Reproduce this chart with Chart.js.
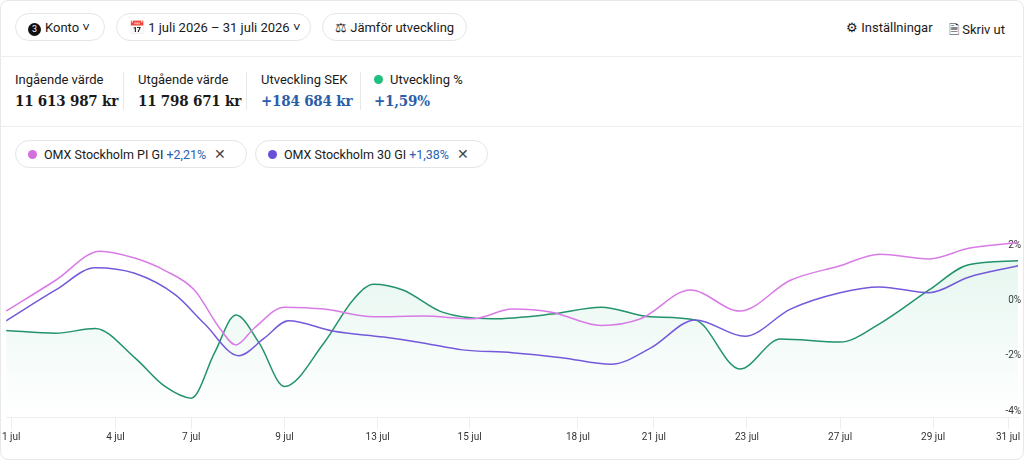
<!DOCTYPE html>
<html><head><meta charset="utf-8">
<script src="https://cdn.jsdelivr.net/npm/chart.js@4"></script>
<style>
body{margin:0;background:#fff;font-family:Roboto,sans-serif;color:#1a1a1a;width:1024px;height:460px;overflow:hidden}
.card{position:absolute;left:0;top:0;width:1022px;height:458px;border:1px solid #e6e8ea;border-radius:8px}
.pill{position:absolute;top:13px;height:28px;border:1px solid #e3e5e8;border-radius:15px;font-size:13px;line-height:27px;padding:0 12px;box-sizing:border-box;white-space:nowrap}
.top a{position:absolute;top:20px;font-size:13px;white-space:nowrap}
.hr{position:absolute;left:0;width:1022px;border-top:1px solid #eceef0}
.stat{position:absolute;top:72px;font-size:13px;white-space:nowrap}
.stat b{display:block;margin-top:5px;font-family:"DejaVu Serif Condensed","DejaVu Serif",serif;font-stretch:condensed;font-size:15px;letter-spacing:-.2px}
.sep{position:absolute;top:72px;height:38px;border-left:1px solid #e6e8ea}
.dot{display:inline-block;width:9px;height:9px;border-radius:50%;margin-right:7px}
.lp{top:140px;font-size:12.5px}
.lp i{font-style:normal;color:#2a62b0}
.x{color:#444;font-size:14px;margin-left:8px}
#wrap{position:absolute;left:0;top:175px;width:1022px;height:276px}
</style></head><body>
<div class="card"></div>
<div class="pill" style="left:15px;width:90px"><span style="display:inline-block;width:13px;height:13px;border-radius:50%;background:#111;color:#fff;font-size:9px;line-height:13px;text-align:center;margin-right:4px">3</span>Konto &#709;</div>
<div class="pill" style="left:116px;width:195px">&#128197; 1 juli 2026 – 31 juli 2026 &#709;</div>
<div class="pill" style="left:322px;width:145px">&#9878; Jämför utveckling</div>
<div class="top"><a style="left:846px">&#9881; Inställningar</a><a style="left:949px">&#128462; Skriv ut</a></div>
<div class="hr" style="top:56px"></div>
<div class="stat" style="left:15px">Ingående värde<b>11 613 987 kr</b></div>
<div class="sep" style="left:123px"></div>
<div class="stat" style="left:138px">Utgående värde<b>11 798 671 kr</b></div>
<div class="sep" style="left:246px"></div>
<div class="stat" style="left:261px">Utveckling SEK<b style="color:#2a5ea8">+184 684 kr</b></div>
<div class="sep" style="left:360px"></div>
<div class="stat" style="left:374px"><span class="dot" style="background:#1fbf7f"></span>Utveckling %<b style="color:#2a5ea8">+1,59%</b></div>
<div class="hr" style="top:126px"></div>
<div class="pill lp" style="left:15px;width:232px"><span class="dot" style="background:#d36ee0"></span>OMX Stockholm PI GI <i>+2,21%</i><span class="x">&#10005;</span></div>
<div class="pill lp" style="left:255px;width:233px"><span class="dot" style="background:#6a4fd8"></span>OMX Stockholm 30 GI <i>+1,38%</i><span class="x">&#10005;</span></div>
<div id="wrap"><canvas id="c"></canvas></div>
<script>
// x position along the period (0 = 1 jul, 100 = 31 jul), y = utveckling %
const tickLabels=["1 jul","4 jul","7 jul","9 jul","13 jul","15 jul","18 jul","21 jul","23 jul","27 jul","29 jul","31 jul"];
const tickPos=[0.5,10.8,18.3,27.5,36.7,45.8,56.5,64,73.2,82.4,91.6,99];
const piX=[0,4.9,9.3,12.7,15.7,18.6,21.1,22.7,24.5,27.5,31.4,36.3,41.2,46.1,50,53.9,58.8,62.7,67.6,72.5,77.5,82.4,86.3,91.2,95.1,100];
const piY=[-0.38,0.73,1.78,1.53,1.08,0.38,-1.0,-1.6,-1.0,-0.24,-0.31,-0.59,-0.56,-0.66,-0.31,-0.42,-0.9,-0.66,0.38,-0.38,0.73,1.25,1.67,1.5,1.88,2.09];
const o30X=[0,4.9,8.8,12.7,16.7,19.6,23,25.5,27.9,32.4,37.3,41.2,45.1,50,54.9,59.8,63.7,68.1,73,77.5,82.4,86.3,91.2,95.1,100];
const o30Y=[-0.73,0.38,1.18,0.98,0.21,-0.84,-1.99,-1.36,-0.73,-1.11,-1.32,-1.53,-1.78,-1.88,-2.06,-2.3,-1.71,-0.7,-1.29,-0.31,0.28,0.49,0.28,0.84,1.25];
const kontoX=[0,4.9,8.8,12.7,15.7,18.3,20.6,22.7,25,27.5,31.4,34.3,36.3,39.2,43.1,48,53.9,58.8,63.7,68.1,72.5,76.5,82.4,86.3,91.2,95.1,100];
const kontoY=[-1.08,-1.18,-1.01,-2.06,-3.1,-3.52,-1.88,-0.52,-1.53,-3.1,-1.53,0.03,0.59,0.38,-0.42,-0.66,-0.49,-0.24,-0.59,-0.7,-2.47,-1.39,-1.5,-0.84,0.38,1.29,1.43];
const yTicks=[-4,-2,0,2];
const pts=(xs,ys)=>xs.map((x,i)=>({x:x,y:ys[i]}));

const ctx=document.getElementById("c").getContext("2d");
const grad=ctx.createLinearGradient(0,100,0,241);
grad.addColorStop(0,"rgba(40,180,120,0.10)");grad.addColorStop(1,"rgba(40,180,120,0)");
const line=(d,c,extra)=>Object.assign({data:d,borderColor:c,borderWidth:1.5,pointRadius:0,tension:0.4,cubicInterpolationMode:"monotone",fill:false},extra||{});
new Chart(ctx,{
  type:"line",
  data:{datasets:[
    line(pts(piX,piY),"#d97be6"),
    line(pts(o30X,o30Y),"#7559db"),
    line(pts(kontoX,kontoY),"#22936a",{fill:"start",backgroundColor:grad})
  ]},
  options:{responsive:true,maintainAspectRatio:false,animation:false,
    layout:{padding:{left:0,right:0,top:0,bottom:6}},
    plugins:{legend:{display:false},tooltip:{enabled:false}},
    scales:{
      x:{type:"linear",min:0,max:100,
        afterBuildTicks:a=>{a.ticks=tickPos.map(v=>({value:v}));},
        ticks:{autoSkip:false,maxRotation:0,color:"#333",font:{family:"Roboto",size:10},padding:2,
          callback:(v,i)=>tickLabels[i]},
        grid:{drawOnChartArea:false,tickLength:12,color:"#eceef0"},border:{color:"#eceef0"}},
      y:{position:"right",min:-4.2,max:4.2,
        afterBuildTicks:a=>{a.ticks=yTicks.map(v=>({value:v}));},
        afterFit:a=>{a.width=0;},
        ticks:{mirror:true,padding:3,color:"#333",font:{family:"Roboto",size:10},callback:v=>v+"%"},
        grid:{display:false},border:{display:false}}
    }}
});
</script>
</body></html>
